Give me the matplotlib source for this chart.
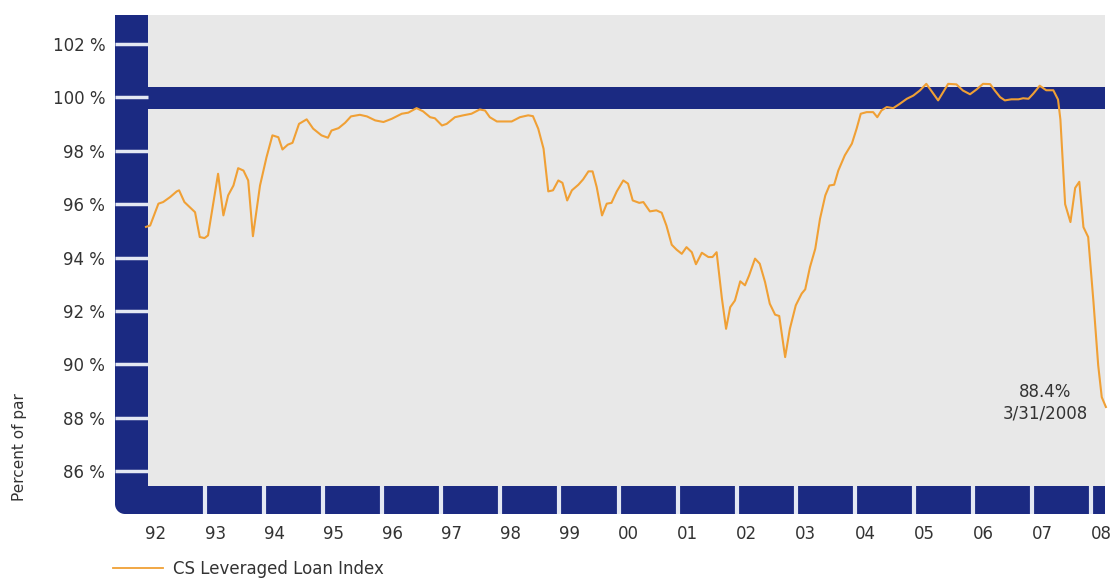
import matplotlib
matplotlib.use('Agg')
import matplotlib.pyplot as plt
from matplotlib.lines import Line2D
from matplotlib.patches import Rectangle, Ellipse

# CS Leveraged Loan Index, percent of par
dates = [1992.00, 1992.07, 1992.21, 1992.29, 1992.41, 1992.52, 1992.56, 1992.65, 1992.74, 1992.83,
         1992.91, 1992.99, 1993.05, 1993.22, 1993.31, 1993.39, 1993.48, 1993.56, 1993.65, 1993.73,
         1993.81, 1993.93, 1994.04, 1994.14, 1994.24, 1994.31, 1994.40, 1994.48, 1994.59, 1994.72,
         1994.83, 1994.97, 1995.08, 1995.14, 1995.26, 1995.37, 1995.47, 1995.62, 1995.74, 1995.88,
         1996.02, 1996.16, 1996.33, 1996.44, 1996.58, 1996.69, 1996.81, 1996.89, 1997.01, 1997.09,
         1997.23, 1997.37, 1997.51, 1997.65, 1997.74, 1997.82, 1997.94, 1998.08, 1998.19, 1998.33,
         1998.47, 1998.55, 1998.64, 1998.73, 1998.81, 1998.89, 1998.98, 1999.05, 1999.13, 1999.21,
         1999.32, 1999.40, 1999.49, 1999.56, 1999.63, 1999.72, 1999.80, 1999.88, 1999.97, 2000.08,
         2000.16, 2000.24, 2000.35, 2000.42, 2000.53, 2000.64, 2000.73, 2000.81, 2000.90, 2000.98,
         2001.07, 2001.15, 2001.24, 2001.31, 2001.41, 2001.52, 2001.59, 2001.66, 2001.75, 2001.82,
         2001.89, 2001.97, 2002.06, 2002.14, 2002.21, 2002.31, 2002.39, 2002.48, 2002.56, 2002.65,
         2002.72, 2002.82, 2002.90, 2003.00, 2003.10, 2003.16, 2003.24, 2003.33, 2003.41, 2003.50,
         2003.57, 2003.65, 2003.72, 2003.83, 2003.95, 2004.03, 2004.10, 2004.20, 2004.31, 2004.38,
         2004.45, 2004.54, 2004.65, 2004.76, 2004.88, 2004.99, 2005.10, 2005.21, 2005.41, 2005.58,
         2005.72, 2005.83, 2005.95, 2006.06, 2006.17, 2006.29, 2006.37, 2006.46, 2006.54, 2006.65,
         2006.77, 2006.85, 2006.94, 2007.02, 2007.13, 2007.24, 2007.36, 2007.44, 2007.48, 2007.56,
         2007.65, 2007.73, 2007.80, 2007.87, 2007.95, 2008.04, 2008.12, 2008.18, 2008.25]
values = [95.15, 95.20, 96.02, 96.08, 96.27, 96.48, 96.52, 96.08, 95.89, 95.70,
          94.77, 94.73, 94.83, 97.14, 95.58, 96.33, 96.70, 97.35, 97.26, 96.89,
          94.80, 96.70, 97.76, 98.58, 98.51, 98.05, 98.23, 98.30, 99.01, 99.18,
          98.83, 98.58, 98.49, 98.76, 98.85, 99.05, 99.29, 99.35, 99.29, 99.14,
          99.08, 99.20, 99.39, 99.43, 99.60, 99.48, 99.26, 99.22, 98.95, 99.01,
          99.26, 99.33, 99.39, 99.55, 99.51, 99.26, 99.10, 99.10, 99.10, 99.26,
          99.33, 99.30, 98.83, 98.08, 96.48, 96.52, 96.89, 96.80, 96.14, 96.52,
          96.73, 96.93, 97.23, 97.23, 96.64, 95.58, 96.02, 96.05, 96.48, 96.89,
          96.77, 96.14, 96.05, 96.08, 95.73, 95.77, 95.68, 95.20, 94.48, 94.30,
          94.14, 94.39, 94.20, 93.75, 94.18, 94.02, 94.02, 94.20, 92.46, 91.33,
          92.14, 92.39, 93.11, 92.96, 93.33, 93.96, 93.77, 93.08, 92.27, 91.86,
          91.81, 90.27, 91.33, 92.21, 92.65, 92.81, 93.64, 94.33, 95.45, 96.33,
          96.70, 96.73, 97.26, 97.83, 98.27, 98.83, 99.39, 99.45, 99.45, 99.26,
          99.51, 99.64, 99.60, 99.76, 99.95, 100.07, 100.26, 100.51, 99.89, 100.51,
          100.49, 100.26, 100.12, 100.30, 100.51, 100.50, 100.26, 100.01, 99.89, 99.93,
          99.93, 99.97, 99.95, 100.14, 100.44, 100.27, 100.27, 99.92, 99.17, 96.00,
          95.33, 96.61, 96.84, 95.14, 94.77, 92.33, 89.96, 88.77, 88.40]

years = list(range(1992, 2009))
year_labels = ['%02d' % (y % 100) for y in years]
yticks = list(range(86, 103, 2))

navy = '#1B2A82'
orange = '#F0A035'
gray = '#E8E8E8'
notch = '#E4E8F3'

W, H = 1112, 579
fig = plt.figure(figsize=(W / 100, H / 100), dpi=100)
ax = fig.add_axes([115 / W, 1 - 514 / H, 990 / W, 499 / H])
ax.set_facecolor(gray)
x0, x1 = 1991.475, 2008.235
y0, y1 = 84.39, 103.09
ax.set_xlim(x0, x1)
ax.set_ylim(y0, y1)

# navy frame: left band, bottom band and the par band at 100
ax.axvspan(x0, 1992.03, color=navy, lw=0, zorder=1)
ax.axhspan(y0, 85.44, color=navy, lw=0, zorder=1)
ax.axhspan(99.55, 100.41, color=navy, lw=0, zorder=1)
ax.hlines(yticks, x0, 1992.03, colors=notch, lw=2.5, zorder=2)
ax.vlines(years[1:], y0, 85.44, colors=notch, lw=3, zorder=2)

line, = ax.plot(dates, values, color=orange, lw=1.5, zorder=3, clip_on=False)

ax.text(2007.22, 88.55, '88.4%\n3/31/2008', ha='center', va='center',
        fontsize=12, color='#333333', linespacing=1.25)

ax.set_yticks(yticks)
ax.set_yticklabels(['%d %%' % v for v in yticks])
ax.set_xticks([y + 0.17 for y in years])
ax.set_xticklabels(year_labels)
ax.tick_params(axis='y', length=0, pad=7, labelsize=12, labelcolor='#333333')
ax.tick_params(axis='x', length=0, pad=8, labelsize=12, labelcolor='#333333')
for s in ax.spines.values():
    s.set_visible(False)

# rounded bottom-left corner of the frame
r = 10
fig.patches.append(Rectangle((115 / W, 65 / H), r / W, r / H, transform=fig.transFigure,
                             color='white', lw=0, zorder=5))
fig.patches.append(Ellipse(((115 + r) / W, (65 + r) / H), 2 * r / W, 2 * r / H,
                           transform=fig.transFigure, color=navy, lw=0, zorder=6))

fig.text(20 / W, 1 - 447 / H, 'Percent of par', rotation=90, ha='center', va='center',
         fontsize=11, color='#333333')

fig.legend(handles=[Line2D([], [], color=orange, lw=1.3)], labels=['CS Leveraged Loan Index'],
           loc='center left', bbox_to_anchor=(113 / W, 1 - 569 / H), frameon=False,
           fontsize=12, handlelength=3.0, handletextpad=0.6, borderpad=0, borderaxespad=0,
           labelcolor='#333333')

fig.savefig('out.png', dpi=100, facecolor='white')
